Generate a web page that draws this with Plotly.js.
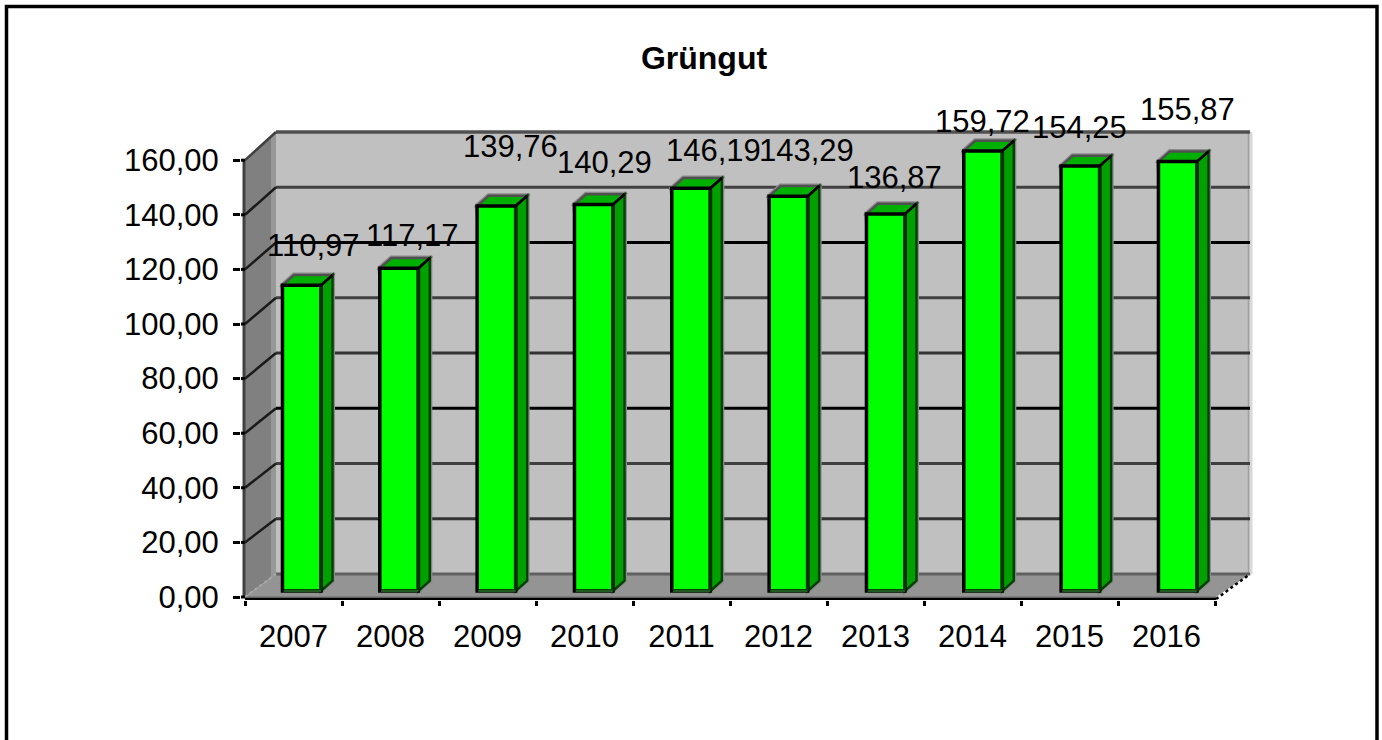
<!DOCTYPE html>
<html><head><meta charset="utf-8">
<script src="https://cdn.plot.ly/plotly-3.0.1.min.js"></script>
<style>html,body{margin:0;padding:0;background:#fff;overflow:hidden}#c{width:1382px;height:740px}</style>
</head><body><div id="c"></div>
<script>
const title = 'Grüngut';
const categories = ['2007','2008','2009','2010','2011','2012','2013','2014','2015','2016'];
const values = [110.97,117.17,139.76,140.29,146.19,143.29,136.87,159.72,154.25,155.87];
const yTickValues = [0,20,40,60,80,100,120,140,160];
const yTickLabels = ['0,00','20,00','40,00','60,00','80,00','100,00','120,00','140,00','160,00'];
const labelShiftX = [12,13,14,11,22,18,9,-1,-1,10];
const labelShiftY = [-40,-33,-59,-42,-38,-46,-36,-29,-39,-52];
const gridColors = ['#808080','#333333','#404040','#000000','#333333','#404040','#000000','#404040','#505050'];

const W=1382,H=740,L=241,R=1253,T=129,B=600;
// front plane scale
const fx0=293.5,fxs=97,fy0=597,fys=2.73;
// back wall scale
const by0=574,bys=2.7625;
// bar plane scale
const bx0=301.75,bxs=97.33,by=591,bs=2.755;
const X=p=>(p-fx0)/fxs, Y=p=>(fy0-p)/fys;
const xRange=[X(L),X(R)], yRange=[Y(B),Y(T)];
const x2Range=[(L-bx0)/bxs,(R-bx0)/bxs], y2Range=[(by-B)/bs,(by-T)/bs];
const poly=pts=>'M '+pts.map(p=>X(p[0])+' '+Y(p[1])).join(' L ')+' Z';
const shapes=[];
const add=(pts,fill,lc,lw)=>shapes.push({type:'path',xref:'x',yref:'y',layer:'below',path:poly(pts),fillcolor:fill,line:{color:lc||fill,width:lw===undefined?0:lw}});
const seg=(x0,y0,x1,y1,c,w,dash)=>shapes.push({type:'line',xref:'x',yref:'y',layer:'below',x0:X(x0),y0:Y(y0),x1:X(x1),y1:Y(y1),line:{color:c,width:w,dash:dash||'solid'}});
// walls
add([[276,132],[1250,132],[1250,574],[276,574]],'#c0c0c0');
add([[245,160],[276,132],[276,574],[245,597]],'#808080');
add([[271,136],[276,132],[276,574],[271,578]],'#989898');
add([[245,597],[276,574],[1250,574],[1216,597]],'#949494');
seg(1251,132,1251,574,'#d8d8d8',3);
seg(1248.5,132,1248.5,574,'#a0a0a0',1.5);
seg(276,574,1250,574,'#606060',3);
seg(245,597,1216,597,'#808080',2);
seg(276,132,1250,132,'#505050',3.5);
seg(244,160,244,597,'#404040',3);
// gridlines
yTickValues.forEach((v,i)=>{
  const fy=fy0-fys*v, gy=by0-bys*v, c=gridColors[i];
  if(v>0){
    if(v<160) seg(276,gy,1250,gy,c,3);
    seg(245,fy,276,gy,v===160?'#404040':'#1a1a1a',2.5);
  } else {
    seg(245,fy,276,gy,'#a8a8a8',2,'dot');
  }
  seg(L,fy,245,fy,'#000',3);
});
seg(245,599.5,1216,599.5,'#000',3.5);
seg(1216,599,1250,574,'#000',2.5,'dot');
// 3D bar faces
const hw=0.198, dx=0.118, dy=3.7;
values.forEach((v,i)=>{
  const a=i-hw,b=i+hw,t=v,bt=0;
  const P=pts=>'M '+pts.map(p=>p[0]+' '+p[1]).join(' L ')+' Z';
  const sh=(path,fill,lc,lw,layer)=>shapes.push({type:'path',xref:'x2',yref:'y2',layer:layer||'below',path,fillcolor:fill,line:{color:lc,width:lw}});
  sh(P([[a,t],[a+dx,t+dy],[b+dx,t+dy],[b+dx,bt+dy],[b,bt]]),'#8c8c8c','#8c8c8c',5);
  sh(P([[a,t],[a+dx,t+dy],[b+dx,t+dy],[b,t]]),'#00b000','#505050',2.5);
  sh(P([[b,t],[b+dx,t+dy],[b+dx,bt+dy],[b,bt]]),'#00a000','#004000',2.5);
  shapes.push({type:'line',xref:'x2',yref:'y2',layer:'above',x0:b,x1:b,y0:bt,y1:t-0.6,line:{color:'#003000',width:3.5}});
  shapes.push({type:'line',xref:'x2',yref:'y2',layer:'above',x0:a+0.012,x1:b,y0:bt,y1:bt,line:{color:'#1f5a1f',width:2.5}});
  shapes.push({type:'line',xref:'x2',yref:'y2',layer:'above',x0:b,x1:b+dx,y0:t,y1:t+dy,line:{color:'#000',width:2.5}});
});
// outer frame
const xp=p=>(p-L)/(R-L), yp=p=>(B-p)/(B-T);
shapes.push({type:'rect',xref:'paper',yref:'paper',layer:'above',x0:xp(6.5),x1:xp(1377),y0:yp(6.5),y1:yp(750),line:{color:'#000',width:3.5},fillcolor:'rgba(0,0,0,0)'});

const annotations=values.map((v,i)=>({
  xref:'x2',yref:'y2',x:i,y:v,xanchor:'center',yanchor:'middle',showarrow:false,
  xshift:labelShiftX[i],yshift:-labelShiftY[i],
  text:v.toFixed(2).replace('.',','),
  font:{family:'Liberation Sans',size:31,color:'#000'}
}));
const trace={type:'bar',x:categories.map((c,i)=>i),y:values,xaxis:'x2',yaxis:'y2',width:0.396,
  marker:{color:'#00ff00',line:{color:'#000',width:3.5}},hoverinfo:'y',showlegend:false,cliponaxis:false};
const axisFont={family:'Liberation Sans',size:31,color:'#000'};
const layout={
  width:W,height:H,paper_bgcolor:'#fff',plot_bgcolor:'rgba(0,0,0,0)',showlegend:false,
  margin:{l:L,r:W-R,t:T,b:H-B,pad:0},
  title:{text:title,x:704/W,xanchor:'center',xref:'container',y:1-58/H,yref:'container',yanchor:'middle',
    font:{family:'Liberation Sans',size:32,color:'#000',weight:'bold'}},
  xaxis:{range:xRange,tickmode:'array',tickvals:categories.map((c,i)=>i),ticktext:categories,ticks:'',showgrid:false,zeroline:false,showline:false,
    tickfont:axisFont,ticklabelstandoff:15,
    minor:{tickmode:'array',tickvals:categories.map((c,i)=>i-0.5).concat([categories.length-0.5]),ticks:'outside',ticklen:5,tickwidth:3,tickcolor:'#000',showgrid:false}},
  yaxis:{range:yRange,tickmode:'array',tickvals:yTickValues,ticktext:yTickLabels,ticks:'outside',ticklen:7,tickwidth:3,tickcolor:'#000',showgrid:false,zeroline:false,showline:false,
    tickfont:axisFont,ticklabelstandoff:8},
  xaxis2:{overlaying:'x',range:x2Range,visible:false,anchor:'y2'},
  yaxis2:{overlaying:'y',range:y2Range,visible:false,anchor:'x2'},
  shapes,annotations,bargap:0
};
Plotly.newPlot('c',[trace],layout,{displayModeBar:false,staticPlot:true});
</script></body></html>
